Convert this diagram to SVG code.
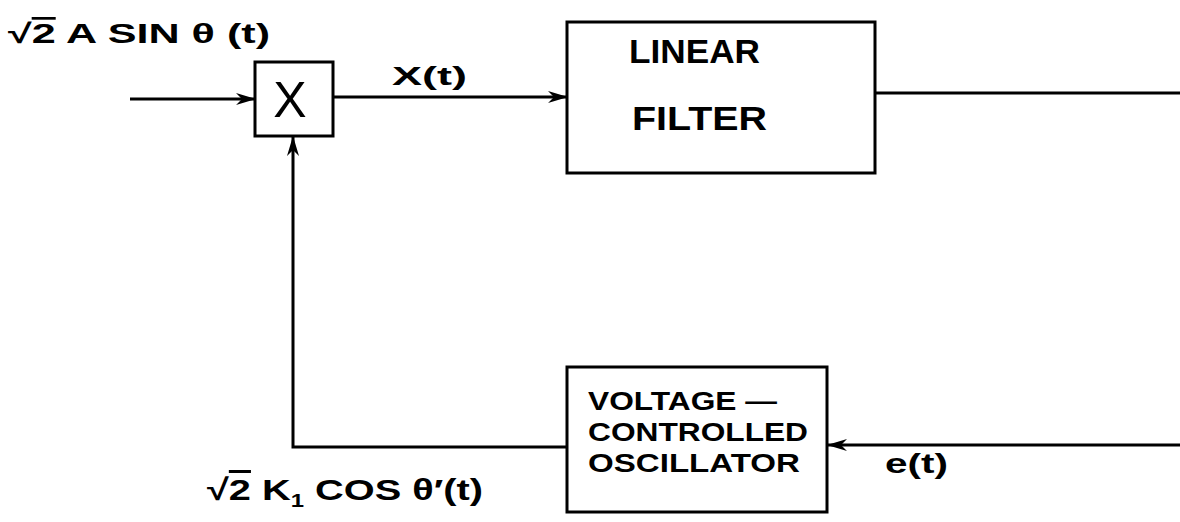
<svg xmlns="http://www.w3.org/2000/svg" width="1180" height="522" viewBox="0 0 1180 522">
<style>
.box{fill:none;stroke:#000;stroke-width:3}
.wire{fill:none;stroke:#000;stroke-width:3}
text{font-family:"Liberation Sans",Arial,sans-serif;fill:#000}
.lbl{font-weight:bold}
.bt{font-size:33px;font-weight:bold}
.vt{font-size:26px;font-weight:bold}
</style>
<defs>
<marker id="arr" viewBox="0 0 20 12" refX="19" refY="6" markerWidth="20" markerHeight="12" markerUnits="userSpaceOnUse" orient="auto">
<path d="M0,0 L20,6 L0,12 L6,6 Z" fill="#000"/>
</marker>
</defs>
<rect width="1180" height="522" fill="#fff"/>
<g id="connectors">
<line class="wire" x1="130" y1="99" x2="255" y2="99" marker-end="url(#arr)"/>
<line class="wire" x1="333" y1="97" x2="567" y2="97" marker-end="url(#arr)"/>
<line class="wire" x1="875" y1="93" x2="1180" y2="93"/>
<line class="wire" x1="1180" y1="445" x2="828" y2="445" marker-end="url(#arr)"/>
<polyline class="wire" points="567,447 293,447 293,137" marker-end="url(#arr)"/>
</g>
<g id="multiplier">
<rect class="box" x="255" y="62" width="78" height="74"/>
<text x="290" y="117" font-size="50" text-anchor="middle">X</text>
</g>
<g id="filter">
<rect class="box" x="567" y="22" width="308" height="151"/>
<text class="bt" x="629" y="63" textLength="131" lengthAdjust="spacingAndGlyphs">LINEAR</text>
<text class="bt" x="632" y="130" textLength="135" lengthAdjust="spacingAndGlyphs">FILTER</text>
</g>
<g id="vco">
<rect class="box" x="567" y="367" width="260" height="145"/>
<text class="vt" x="588" y="410" textLength="189" lengthAdjust="spacingAndGlyphs">VOLTAGE —</text>
<text class="vt" x="588" y="441" textLength="220" lengthAdjust="spacingAndGlyphs">CONTROLLED</text>
<text class="vt" x="588" y="472" textLength="212" lengthAdjust="spacingAndGlyphs">OSCILLATOR</text>
</g>
<g id="labels">
<text class="lbl" x="8" y="43" font-size="27" textLength="262" lengthAdjust="spacingAndGlyphs">√<tspan text-decoration="overline">2</tspan> A  SIN θ (t)</text>
<text class="lbl" x="392" y="85" font-size="26" textLength="75" lengthAdjust="spacingAndGlyphs">X(t)</text>
<text class="lbl" x="885" y="473" font-size="28" textLength="63" lengthAdjust="spacingAndGlyphs">e(t)</text>
<text class="lbl" x="207" y="500" font-size="30" textLength="276" lengthAdjust="spacingAndGlyphs">√<tspan text-decoration="overline">2</tspan> K<tspan font-size="18" dy="7">1</tspan><tspan dy="-7"> COS θ′(t)</tspan></text>
</g>
</svg>
